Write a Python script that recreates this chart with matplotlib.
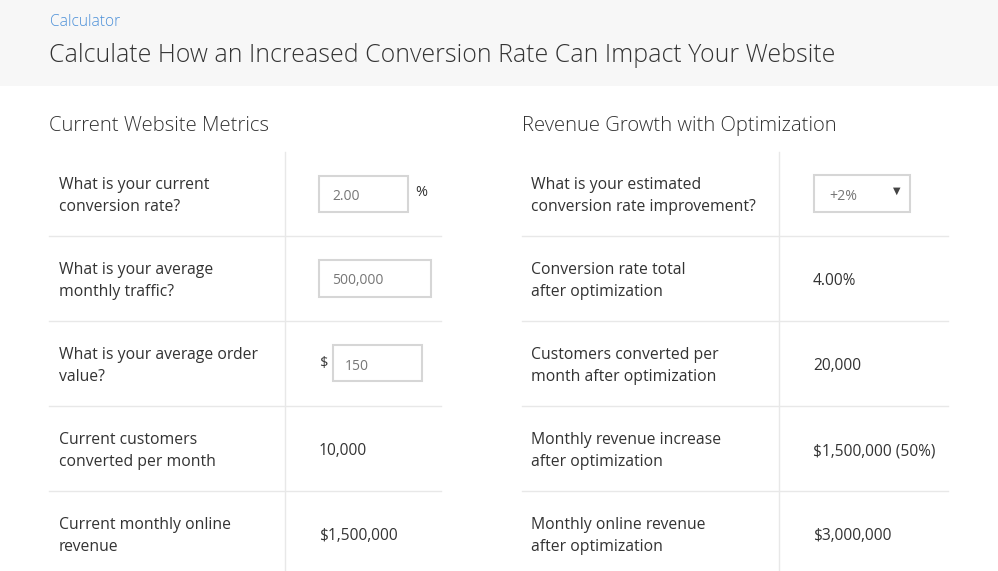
import matplotlib
matplotlib.use("Agg")
import matplotlib.pyplot as plt
from matplotlib.patches import Rectangle

kicker = "Calculator"
title = "Calculate How an Increased Conversion Rate Can Impact Your Website"
left_heading = "Current Website Metrics"
right_heading = "Revenue Growth with Optimization"
left_labels = ["What is your current\nconversion rate?",
               "What is your average\nmonthly traffic?",
               "What is your average order\nvalue?",
               "Current customers\nconverted per month",
               "Current monthly online\nrevenue"]
left_values = ["2.00", "500,000", "150", "10,000", "$1,500,000"]
right_labels = ["What is your estimated\nconversion rate improvement?",
                "Conversion rate total\nafter optimization",
                "Customers converted per\nmonth after optimization",
                "Monthly revenue increase\nafter optimization",
                "Monthly online revenue\nafter optimization"]
right_values = ["+2%", "4.00%", "20,000", "$1,500,000 (50%)", "$3,000,000"]

FONT = "Open Sans"
TXT = "#333333"
LINE = "#e8e8e8"

fig = plt.figure(figsize=(9.98, 5.71), dpi=100)
ax = fig.add_axes([0, 0, 1, 1])
ax.set_xlim(0, 998)
ax.set_ylim(571, 0)
ax.axis("off")

ax.add_patch(Rectangle((0, 0), 998, 86, color="#f7f7f7", lw=0))
ax.text(50, 22, kicker, fontsize=11.2, color="#4a8fd8", family=FONT, va="center", fontweight="light")
ax.text(49, 55, title, fontsize=17.9, color=TXT, family=FONT, va="center", fontweight="light")
ax.text(49, 126, left_heading, fontsize=14.6, color=TXT, family=FONT, va="center", fontweight="light")
ax.text(522, 126, right_heading, fontsize=14.6, color=TXT, family=FONT, va="center", fontweight="light")

row_top = 152
row_h = 85
for x0, x1, xv in [(49, 441, 285), (522, 948, 779)]:
    ax.plot([xv, xv], [row_top, 571], color=LINE, lw=1)
    for i in range(1, 5):
        y = row_top + i * row_h - 1
        ax.plot([x0, x1], [y, y], color=LINE, lw=1)

for i, (lab, val) in enumerate(zip(left_labels, left_values)):
    cy = row_top + i * row_h + 44
    ax.text(59, cy, lab, fontsize=11.3, color=TXT, family=FONT, va="center", linespacing=1.55)
    if i == 0:
        ax.add_patch(Rectangle((319, 176), 89, 36, fill=False, ec="#d6d6d6", lw=1.5))
        ax.text(332, cy, val, fontsize=10, color="#777777", family=FONT, va="center")
        ax.text(415, cy - 4, "%", fontsize=10.5, color=TXT, family=FONT, va="center")
    elif i == 1:
        ax.add_patch(Rectangle((319, 260), 112, 37, fill=False, ec="#d6d6d6", lw=1.5))
        ax.text(332, cy, val, fontsize=10, color="#777777", family=FONT, va="center")
    elif i == 2:
        ax.text(319, cy - 3, "$", fontsize=10.5, color=TXT, family=FONT, va="center")
        ax.add_patch(Rectangle((333, 345), 89, 36, fill=False, ec="#d6d6d6", lw=1.5))
        ax.text(345, cy, val, fontsize=10, color="#777777", family=FONT, va="center")
    else:
        ax.text(319, cy, val, fontsize=11.2, color=TXT, family=FONT, va="center")

for i, (lab, val) in enumerate(zip(right_labels, right_values)):
    cy = row_top + i * row_h + 44
    ax.text(531, cy, lab, fontsize=11.3, color=TXT, family=FONT, va="center", linespacing=1.55)
    if i == 0:
        ax.add_patch(Rectangle((814, 175), 96, 37, fill=False, ec="#d6d6d6", lw=1.5))
        ax.text(829, cy, val, fontsize=10.2, color="#777777", family=FONT, va="center")
        ax.text(897, cy - 5, "\u25BC", fontsize=7, color="#444444", family="DejaVu Sans", va="center", ha="center")
    else:
        ax.text(813, cy, val, fontsize=11.2, color=TXT, family=FONT, va="center")

fig.savefig("out.png", dpi=100)
